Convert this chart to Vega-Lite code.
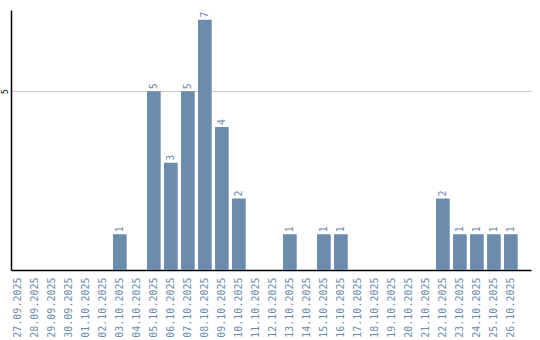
{
  "$schema": "https://vega.github.io/schema/vega-lite/v6.json",
  "width": 520,
  "height": 260,
  "autosize": "none",
  "padding": {"left": 11, "top": 10, "right": 9, "bottom": 70},
  "config": {"view": {"stroke": null}, "font": "DejaVu Sans Mono"},
  "data": {"values": [
    {"d": "27.09.2025", "v": 0}, {"d": "28.09.2025", "v": 0}, {"d": "29.09.2025", "v": 0},
    {"d": "30.09.2025", "v": 0}, {"d": "01.10.2025", "v": 0}, {"d": "02.10.2025", "v": 0},
    {"d": "03.10.2025", "v": 1}, {"d": "04.10.2025", "v": 0}, {"d": "05.10.2025", "v": 5},
    {"d": "06.10.2025", "v": 3}, {"d": "07.10.2025", "v": 5}, {"d": "08.10.2025", "v": 7},
    {"d": "09.10.2025", "v": 4}, {"d": "10.10.2025", "v": 2}, {"d": "11.10.2025", "v": 0},
    {"d": "12.10.2025", "v": 0}, {"d": "13.10.2025", "v": 1}, {"d": "14.10.2025", "v": 0},
    {"d": "15.10.2025", "v": 1}, {"d": "16.10.2025", "v": 1}, {"d": "17.10.2025", "v": 0},
    {"d": "18.10.2025", "v": 0}, {"d": "19.10.2025", "v": 0}, {"d": "20.10.2025", "v": 0},
    {"d": "21.10.2025", "v": 0}, {"d": "22.10.2025", "v": 2}, {"d": "23.10.2025", "v": 1},
    {"d": "24.10.2025", "v": 1}, {"d": "25.10.2025", "v": 1}, {"d": "26.10.2025", "v": 1}
  ]},
  "encoding": {
    "x": {
      "field": "d", "type": "nominal", "sort": null, "title": null,
      "scale": {"paddingInner": 0.194, "paddingOuter": 0.39, "align": 0},
      "axis": {"labelAngle": -90, "labelAlign": "right", "labelBaseline": "middle",
               "labelFontSize": 10, "labelColor": "#6b8cac", "ticks": false,
               "labelPadding": 7, "domainColor": "#000000", "domainWidth": 1.5}
    },
    "y": {
      "field": "v", "type": "quantitative", "title": null,
      "scale": {"domain": [0, 7.27], "nice": false},
      "axis": {"values": [5], "grid": true, "gridColor": "#cccccc", "ticks": false,
               "labelAngle": -90, "labelAlign": "center", "labelBaseline": "bottom",
               "labelFontSize": 8, "labelColor": "#000000", "labelPadding": 2,
               "domainColor": "#000000", "domainWidth": 1.5}
    }
  },
  "layer": [
    {"mark": {"type": "bar", "color": "#6b8cac"}},
    {
      "transform": [{"filter": "datum.v > 0"}],
      "mark": {"type": "text", "angle": -90, "align": "left", "baseline": "middle",
               "dx": 2, "fontSize": 10, "color": "#6b8cac"},
      "encoding": {"text": {"field": "v", "type": "quantitative"}}
    }
  ]
}
